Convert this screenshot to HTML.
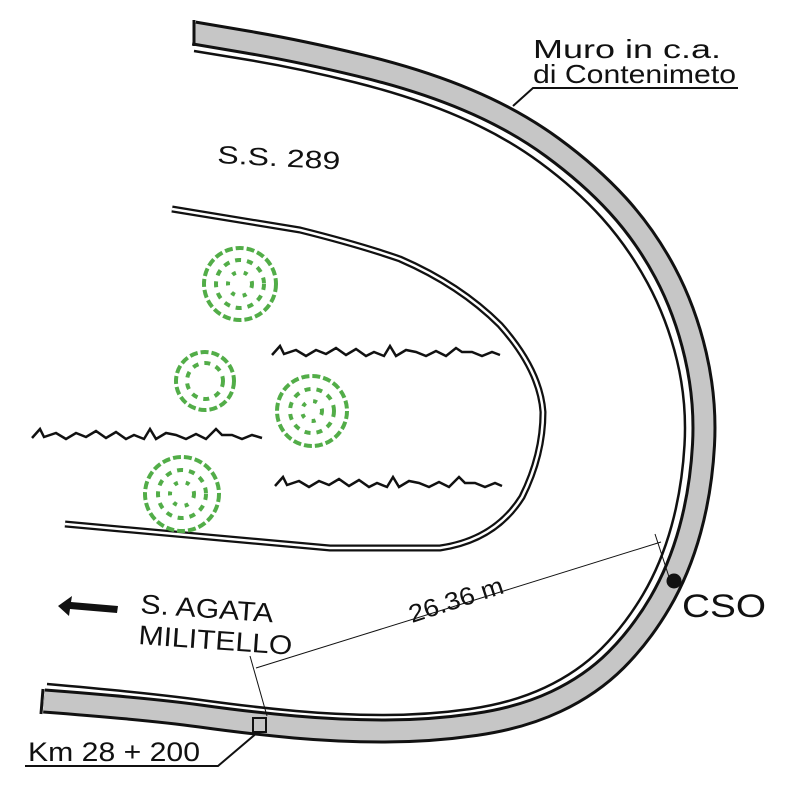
<!DOCTYPE html>
<html><head><style>
html,body{margin:0;padding:0;background:#fff;}
svg{display:block;}
text{font-family:"Liberation Sans",sans-serif;fill:#111;}
</style></head><body>
<svg width="788" height="788" viewBox="0 0 788 788" xmlns="http://www.w3.org/2000/svg">
<g fill="none" stroke-linejoin="round">
<path id="w" stroke="#111" stroke-width="25" d="M194,33 L247,42 Q300,51 360,65.5 Q420,80 467.5,100 Q515,120 552.5,147.5 Q590,175 617.5,205 Q645,235 665,272.5 Q685,310 695.5,355 Q706,400 703.5,445 Q701,490 690,530 Q679,570 660,602.5 Q641,635 616,660 Q591,685 556,701.5 Q521,718 475.5,724.5 Q430,731 385,731 Q340,731 295,727 Q250,723 200,716 Q150,709 44,701"/>
<path stroke="#c6c6c6" stroke-width="19" d="M194,33 L247,42 Q300,51 360,65.5 Q420,80 467.5,100 Q515,120 552.5,147.5 Q590,175 617.5,205 Q645,235 665,272.5 Q685,310 695.5,355 Q706,400 703.5,445 Q701,490 690,530 Q679,570 660,602.5 Q641,635 616,660 Q591,685 556,701.5 Q521,718 475.5,724.5 Q430,731 385,731 Q340,731 295,727 Q250,723 200,716 Q150,709 44,701"/>
<path stroke="#111" stroke-width="2.5" d="M194,51 L246,59.5 Q298,68 355.5,82.5 Q413,97 458.5,116.5 Q504,136 540,162.5 Q576,189 602,218 Q628,247 647.5,283 Q667,319 677,360.5 Q687,402 684.5,445 Q682,488 671.5,526 Q661,564 643,594.5 Q625,625 601.5,648.5 Q578,672 545,687.5 Q512,703 470,709 Q428,715 384,715 Q340,715 296,711 Q252,707 201,700 Q150,693 47,684"/>
<path stroke="#111" stroke-width="7" d="M172,209 L300,230 Q360,245 400,259 Q460,285 500,325 Q540,370 543,412 Q543,455 522,497 Q495,540 440,548 L330,548 L65,524"/>
<path stroke="#fff" stroke-width="2.5" d="M172,209 L300,230 Q360,245 400,259 Q460,285 500,325 Q540,370 543,412 Q543,455 522,497 Q495,540 440,548 L330,548 L65,524"/>
</g>
<line x1="194" y1="20" x2="194" y2="46" stroke="#111" stroke-width="3"/>
<line x1="43" y1="689" x2="41" y2="714" stroke="#111" stroke-width="3"/>
<g fill="none" stroke="#52ad48" stroke-width="4">
<circle cx="240" cy="284" r="36" stroke-dasharray="8 3"/><circle cx="240" cy="284" r="24" stroke-dasharray="6 6"/><circle cx="240" cy="284" r="12" stroke-dasharray="4 8"/>
<circle cx="205" cy="381" r="29" stroke-dasharray="8 3"/><circle cx="205" cy="381" r="18" stroke-dasharray="6 6"/>
<circle cx="312" cy="411" r="35" stroke-dasharray="8 3"/><circle cx="312" cy="411" r="22" stroke-dasharray="6 6"/><circle cx="312" cy="411" r="10" stroke-dasharray="4 8"/>
<circle cx="182" cy="494" r="37" stroke-dasharray="8 3"/><circle cx="182" cy="494" r="24" stroke-dasharray="6 6"/><circle cx="182" cy="494" r="12" stroke-dasharray="4 8"/>
</g>
<g fill="none" stroke="#111" stroke-width="2.5" stroke-linejoin="miter">
<polyline points="272,355 280,346 284,354 296,350 306,356 316,350 326,354 336,348 346,355 356,349 366,356 374,352 384,356 390,346 396,356 406,350 416,352 426,356 436,351 446,356 456,348 462,352 472,352 482,356 492,352 500,355"/>
<polyline points="32,438 40,429 44,437 56,433 66,439 76,433 86,437 96,431 106,438 116,432 126,439 134,435 144,439 150,429 156,439 166,433 176,435 186,439 196,434 206,439 216,429 222,435 232,435 242,439 252,435 262,438"/>
<polyline points="275,486 283,477 287,485 299,481 309,487 319,481 329,485 339,479 349,486 359,480 369,487 377,483 387,487 393,477 399,487 409,481 419,483 429,487 439,482 449,487 459,477 465,483 475,483 485,487 495,483 502,486"/>
</g>
<text x="533" y="58" font-size="26" textLength="188" lengthAdjust="spacingAndGlyphs">Muro in c.a.</text>
<text x="533" y="83" font-size="26" textLength="203" lengthAdjust="spacingAndGlyphs">di Contenimeto</text>
<polyline points="738,88 533,88 513,106" fill="none" stroke="#111" stroke-width="2"/>
<text x="217" y="163" font-size="25" textLength="123" lengthAdjust="spacingAndGlyphs" transform="rotate(3 217 163)">S.S. 289</text>
<path d="M58,606 L72,596 L71,602 L118,606 L117,613 L70,609 L69,616 Z" fill="#111"/>
<text x="140" y="613" font-size="27" textLength="133" lengthAdjust="spacingAndGlyphs" transform="rotate(4 140 613)">S. AGATA</text>
<text x="138" y="644" font-size="27" textLength="154" lengthAdjust="spacingAndGlyphs" transform="rotate(4 138 644)">MILITELLO</text>
<line x1="256" y1="668" x2="661" y2="542" stroke="#111" stroke-width="1"/>
<line x1="250" y1="656" x2="267" y2="716" stroke="#111" stroke-width="1"/>
<line x1="655" y1="534" x2="670" y2="580" stroke="#111" stroke-width="1"/>
<text x="412" y="623" font-size="25" textLength="98" lengthAdjust="spacingAndGlyphs" transform="rotate(-18 412 623)">26.36 m</text>
<circle cx="674" cy="581" r="7.5" fill="#111"/>
<text x="682" y="617" font-size="32" textLength="84" lengthAdjust="spacingAndGlyphs">CSO</text>
<rect x="253" y="718" width="13" height="14" fill="none" stroke="#111" stroke-width="2"/>
<polyline points="258,732 218,766 25,766" fill="none" stroke="#111" stroke-width="2"/>
<text x="28" y="761" font-size="27" textLength="172" lengthAdjust="spacingAndGlyphs">Km 28 + 200</text>
</svg>
</body></html>
